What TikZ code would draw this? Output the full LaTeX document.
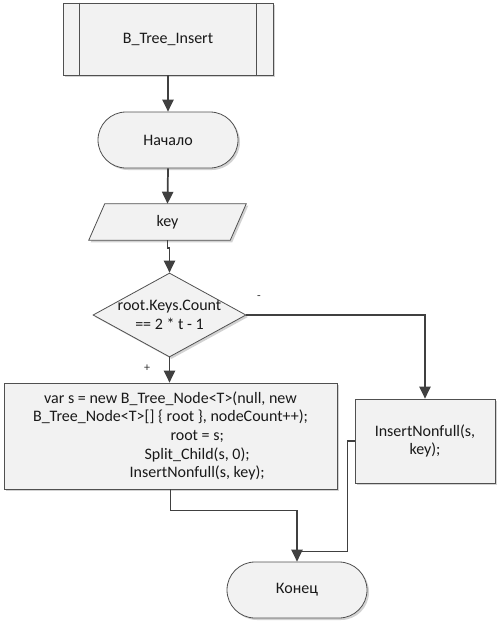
\documentclass[tikz,border=0pt]{standalone}
\usepackage{fontspec}
\setmainfont{Carlito}
\usetikzlibrary{shapes.geometric,shadows,arrows.meta,calc}
\definecolor{linec}{RGB}{64,64,64}
\definecolor{fillc}{RGB}{242,242,242}
\definecolor{bordc}{RGB}{80,80,80}
\begin{document}
\begin{tikzpicture}[x=0.75pt,y=-0.75pt,
  font=\fontsize{12pt}{14pt}\selectfont,
  shapeline/.style={draw=bordc, line width=0.6pt, fill=fillc,
    drop shadow={shadow xshift=1.5pt,shadow yshift=-1.5pt,fill=black!35}},
  blk/.style={shapeline, text=black!90, inner sep=0pt, align=center},
  procbox/.style={blk, rectangle},
  term/.style={blk, rectangle, rounded corners=21pt, minimum width=105pt, minimum height=42pt},
  iotext/.style={rectangle, inner sep=0pt, text=black!90, minimum width=105.75pt, minimum height=27pt},
  dec/.style={blk, diamond, minimum width=114.75pt, minimum height=63pt},
  conn/.style={draw=linec, line width=1.3pt},
  arr/.style={conn, -{Triangle[length=9pt,width=8.5pt]}},
  lbl/.style={font=\fontsize{9pt}{10pt}\selectfont, text=black!80, inner sep=0pt}
]
\useasboundingbox (0,0) rectangle (502,625);

\node[procbox, minimum width=157.5pt, minimum height=54pt] (top) at (168,39) {B\_Tree\_Insert};
\draw[draw=bordc, line width=0.6pt] ([xshift=12.75pt]top.north west) -- ([xshift=12.75pt]top.south west);
\draw[draw=bordc, line width=0.6pt] ([xshift=-12.75pt]top.north east) -- ([xshift=-12.75pt]top.south east);

\node[term] (start) at (168,140) {Начало};

\node[iotext] (key) at (167.5,222) {};
\path[shapeline] ([xshift=6pt]key.north west) -- ([xshift=6pt]key.north east)
  -- ([xshift=-6pt]key.south east) -- ([xshift=-6pt]key.south west) -- cycle;
\node[inner sep=0pt, text=black!90] (keytext) at (key) {key};

\node[dec] (cond) at (169.5,315) {};
\node[align=center, inner sep=0pt, text=black!90] (condtext) at (169.5,315) {root.Keys.Count\\== 2 * t - 1};

\node[procbox, minimum width=249.75pt, minimum height=79.5pt] (big) at (170.5,436)
  {var s = new B\_Tree\_Node<T>(null, new\\
   B\_Tree\_Node<T>[] \{ root \}, nodeCount++);\\
   \hspace*{40pt}root = s;\\
   \hspace*{40pt}Split\_Child(s, 0);\\
   \hspace*{40pt}InsertNonfull(s, key);};

\node[procbox, minimum width=105pt, minimum height=63pt] (right) at (425,441) {InsertNonfull(s,\\key);};
\node[term] (end) at (297,590) {Конец};

\node[lbl] (minus) at (259,298) {-};
\node[lbl] (plus) at (147,368) {+};

\draw[arr] (top.south) -- (start.north);
\draw[arr] (start.south) -- (key.north);
\draw[arr] (key.south) -- ++(0,8) -| (cond.north);
\draw[arr] (cond.south) -- (cond.south |- big.north);
\draw[arr] (cond.east) -| (right.north);
\coordinate (join) at ($(end.north)+(0,-10)$);
\draw[arr] (big.south) -- ++(0,21) -| (end.north);
\draw[conn] (right.west) -- ++(-7,0) |- (join);
\end{tikzpicture}
\end{document}
